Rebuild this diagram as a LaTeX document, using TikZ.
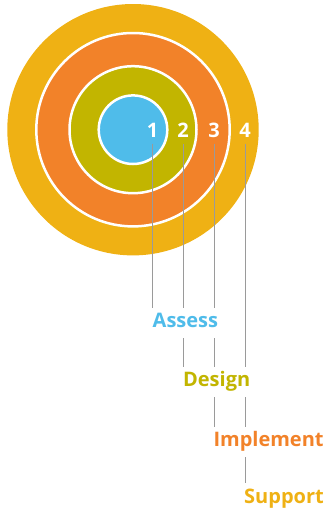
\documentclass[tikz,border=0pt]{standalone}
\usepackage{fontspec}
\setmainfont{Open Sans}
\usetikzlibrary{backgrounds}
\definecolor{cblue}{HTML}{4FBCEA}
\definecolor{cgreen}{HTML}{C2B500}
\definecolor{corange}{HTML}{F28229}
\definecolor{cyellow}{HTML}{EFB114}
\definecolor{cgray}{HTML}{9A9A9A}
\begin{document}
\begin{tikzpicture}[x=1pt,y=-1pt,
  ring/.style={draw=white,line width=2.5pt},
  num/.style={text=white,font=\fontsize{20}{20}\selectfont\bfseries,anchor=base,inner sep=6pt},
  lbl/.style={fill=white,font=\fontsize{20}{20}\selectfont\bfseries,anchor=base west,inner xsep=0pt,inner ysep=3pt,text height=17pt,text depth=7pt},
  conn/.style={draw=cgray,line width=1pt}]
\useasboundingbox (0,0) rectangle (330,509);
\begin{pgfonlayer}{background}
\fill[cyellow] (133,129.7) circle (125.7);
\filldraw[ring,fill=corange] (133,129.7) circle (96.7);
\filldraw[ring,fill=cgreen] (133,129.7) circle (63.5);
\filldraw[ring,fill=cblue] (133,129.7) circle (34.3);
\end{pgfonlayer}
\node[num] (n1) at (152.7,137.3) {1};
\node[num] (n2) at (183.2,137.3) {2};
\node[num] (n3) at (214,137.3) {3};
\node[num] (n4) at (245,137.3) {4};
\node[lbl,text=cblue] (l1) at (152.5,327.7) {Assess};
\node[lbl,text=cgreen] (l2) at (182.9,386.7) {Design};
\node[lbl,text=corange] (l3) at (213.3,446.7) {Implement};
\node[lbl,text=cyellow] (l4) at (244,503.3) {Support};
\begin{pgfonlayer}{background}
\draw[conn] (n1.south) -- (n1.south |- l1.north);
\draw[conn] (n2.south) -- (n2.south |- l2.north);
\draw[conn] (n3.south) -- (n3.south |- l3.north);
\draw[conn] (n4.south) -- (n4.south |- l4.north);
\end{pgfonlayer}
\end{tikzpicture}
\end{document}
